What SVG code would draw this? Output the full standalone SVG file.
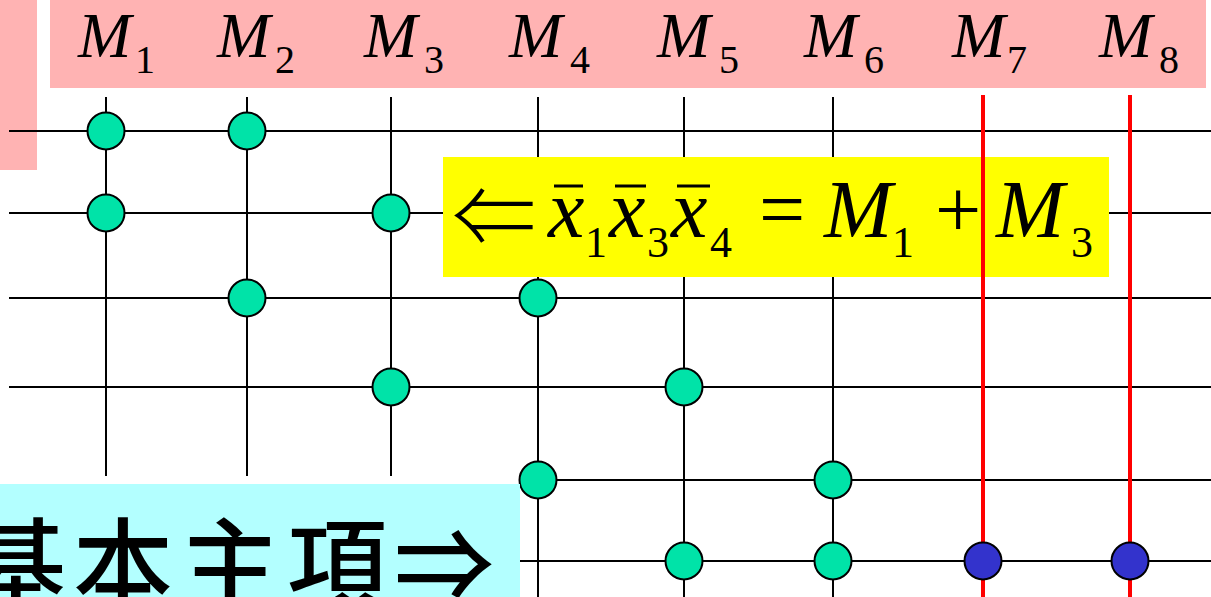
<svg xmlns="http://www.w3.org/2000/svg" width="1211" height="597" viewBox="0 0 1211 597">
<style>
.g{stroke:#000;stroke-width:2;fill:none}
.r{stroke:#FF0000;stroke-width:4;fill:none}
.n{fill:#00E3A8;stroke:#000;stroke-width:2}
.b{fill:#3333CC;stroke:#000;stroke-width:2}
.M{font-family:"Liberation Serif",serif;font-style:italic;font-size:64px;fill:#000}
.s{font-family:"Liberation Serif",serif;font-size:40px;fill:#000}
.EM{font-family:"Liberation Serif",serif;font-style:italic;font-size:82px;fill:#000}
.Es{font-family:"Liberation Serif",serif;font-size:44px;fill:#000}
.Eo{font-family:"Liberation Serif",serif;font-size:82px;fill:#000}
</style>
<rect x="0" y="0" width="1211" height="597" fill="#fff"/>
<g id="strip"><rect x="0" y="0" width="37" height="170" fill="#FFB3B3"/></g>
<g id="header">
<rect x="50" y="0" width="1156" height="88" fill="#FFB3B3"/>
<text class="M" x="78" y="57">M</text><text class="s" x="135" y="73">1</text>
<text class="M" x="217" y="57">M</text><text class="s" x="275" y="73">2</text>
<text class="M" x="364" y="57">M</text><text class="s" x="424" y="73">3</text>
<text class="M" x="509" y="57">M</text><text class="s" x="570" y="73">4</text>
<text class="M" x="657" y="57">M</text><text class="s" x="719" y="73">5</text>
<text class="M" x="804" y="57">M</text><text class="s" x="864" y="73">6</text>
<text class="M" x="952" y="57">M</text><text class="s" x="1007" y="73">7</text>
<text class="M" x="1099" y="57">M</text><text class="s" x="1159" y="73">8</text>
</g>
<g id="connectors">
<line class="g" x1="9" y1="131" x2="1211" y2="131"/>
<line class="g" x1="9" y1="213" x2="1211" y2="213"/>
<line class="g" x1="9" y1="298" x2="1211" y2="298"/>
<line class="g" x1="9" y1="387" x2="1211" y2="387"/>
<line class="g" x1="538" y1="480" x2="1211" y2="480"/>
<line class="g" x1="9" y1="561" x2="1211" y2="561"/>
<line class="g" x1="106" y1="97" x2="106" y2="476"/>
<line class="g" x1="247" y1="97" x2="247" y2="476"/>
<line class="g" x1="391" y1="97" x2="391" y2="476"/>
<line class="g" x1="538" y1="97" x2="538" y2="597"/>
<line class="g" x1="684" y1="97" x2="684" y2="597"/>
<line class="g" x1="833" y1="97" x2="833" y2="597"/>
</g>
<g id="formula">
<rect x="443" y="157" width="666" height="120" fill="#FFFF00"/>
<text x="452" y="247" style="font-family:'Noto Sans CJK SC',sans-serif;font-weight:300;font-size:84px;fill:#000">⇐</text>
<text class="EM" x="548" y="237">x</text><text class="Es" x="585" y="257">1</text>
<text class="EM" x="609" y="237">x</text><text class="Es" x="647" y="257">3</text>
<text class="EM" x="671" y="237">x</text><text class="Es" x="710" y="257">4</text>
<line x1="554" y1="186" x2="583" y2="186" stroke="#000" stroke-width="3"/>
<line x1="615" y1="186" x2="646" y2="186" stroke="#000" stroke-width="3"/>
<line x1="677" y1="186" x2="710" y2="186" stroke="#000" stroke-width="3"/>
<text class="Eo" x="759" y="237">=</text>
<text class="EM" x="824" y="237">M</text><text class="Es" x="892" y="257">1</text>
<text class="Eo" x="935" y="237">+</text>
<text class="EM" x="996" y="237">M</text><text class="Es" x="1071" y="257">3</text>
</g>
<g id="red">
<line class="r" x1="983" y1="95" x2="983" y2="597"/>
<line class="r" x1="1130" y1="95" x2="1130" y2="597"/>
</g>
<g id="nodes">
<circle class="n" cx="106" cy="131" r="18.5"/>
<circle class="n" cx="247" cy="131" r="18.5"/>
<circle class="n" cx="106" cy="213" r="18.5"/>
<circle class="n" cx="391" cy="213" r="18.5"/>
<circle class="n" cx="247" cy="298" r="18.5"/>
<circle class="n" cx="538" cy="298" r="18.5"/>
<circle class="n" cx="391" cy="387" r="18.5"/>
<circle class="n" cx="684" cy="387" r="18.5"/>
<circle class="n" cx="538" cy="480" r="18.5"/>
<circle class="n" cx="833" cy="480" r="18.5"/>
<circle class="n" cx="684" cy="561" r="18.5"/>
<circle class="n" cx="833" cy="561" r="18.5"/>
<circle class="b" cx="983" cy="561" r="18.5"/>
<circle class="b" cx="1130" cy="561" r="18.5"/>
</g>
<g id="label">
<rect x="0" y="484" width="520" height="113" fill="#B3FFFF"/>
<text x="-34" y="602" style="font-family:'Noto Sans CJK SC','Noto Sans CJK TC',sans-serif;font-weight:500;font-size:100px;letter-spacing:7px;fill:#000">基本主項⇒</text>
</g>
</svg>
